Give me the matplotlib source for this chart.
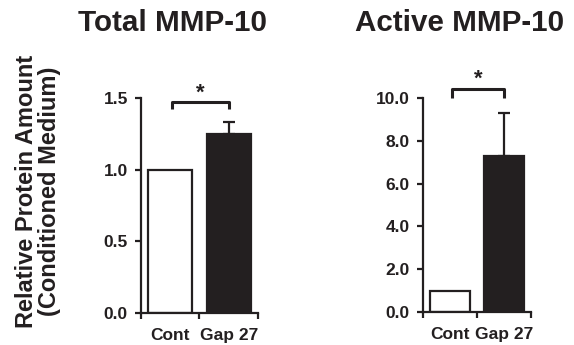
import matplotlib
matplotlib.use("Agg")
import matplotlib.pyplot as plt

plt.rcParams['font.family'] = ['Liberation Sans', 'DejaVu Sans']
plt.rcParams['font.weight'] = 'bold'

categories = ["Cont", "Gap 27"]
total_values = [1.0, 1.25]
total_errors = [0.0, 0.08]
active_values = [1.0, 7.3]
active_errors = [0.0, 2.0]
total_ticks = [0.0, 0.5, 1.0, 1.5]
total_ticklabels = ["0.0", "0.5", "1.0", "1.5"]
active_ticks = [0.0, 2.0, 4.0, 6.0, 8.0, 10.0]
active_ticklabels = ["0.0", "2.0", "4.0", "6.0", "8.0", "10.0"]
titles = ["Total MMP-10", "Active MMP-10"]
ylabel = "Relative Protein Amount\n(Conditioned Medium)"

INK = '#231f20'
fig = plt.figure(figsize=(5.74, 3.45), dpi=100)
ax1 = fig.add_axes([0.2456, 0.0928, 0.2039, 0.6232])
ax2 = fig.add_axes([0.7369, 0.0957, 0.1882, 0.6203])

def draw(ax, vals, errs, yticks, ylabels, ymax, title, title_x,
         bracket_y, bracket_drop, star_y):
    xs = [0.5, 1.5]
    colors = ['white', INK]
    for x, v, e, c in zip(xs, vals, errs, colors):
        ax.bar(x, v, width=0.75, color=c, edgecolor=INK, linewidth=1.6, zorder=2)
        if e > 0:
            ax.errorbar(x, v, yerr=[[0], [e]], fmt='none', ecolor=INK,
                        elinewidth=1.6, capsize=4, capthick=1.6, zorder=3)
    ax.set_xlim(0, 2)
    ax.set_ylim(0, ymax)
    for s in ['top', 'right']:
        ax.spines[s].set_visible(False)
    for s in ['left', 'bottom']:
        ax.spines[s].set_linewidth(1.6)
        ax.spines[s].set_color(INK)
    ax.set_yticks(yticks)
    ax.set_yticklabels(ylabels, fontsize=12.5, fontweight='bold', color=INK)
    ax.set_xticks([0, 1, 2])
    ax.set_xticklabels([])
    ax.set_xticks(xs, minor=True)
    ax.set_xticklabels(categories, minor=True, fontsize=12.5, fontweight='bold', color=INK)
    ax.tick_params(axis='x', which='minor', length=0, pad=11)
    ax.tick_params(axis='both', which='major', length=4.5, width=1.6, color=INK)
    ax.tick_params(axis='y', pad=5)
    # significance bracket
    ax.plot([0.53, 0.53, 1.5, 1.5],
            [bracket_y - bracket_drop, bracket_y, bracket_y, bracket_y - bracket_drop],
            color=INK, lw=2.2, clip_on=False, solid_capstyle='butt')
    ax.text(1.02, star_y, '*', ha='center', va='center', fontsize=16,
            fontweight='bold', color=INK, clip_on=False)
    fig.text(title_x, 0.933, title,
             ha='center', va='center', fontsize=21.3, fontweight='bold', color=INK)

draw(ax1, total_values, total_errors, total_ticks, total_ticklabels, 1.5,
     titles[0], 172 / 574, 1.472, 0.048, 1.53)
draw(ax2, active_values, active_errors, active_ticks, active_ticklabels, 10.0,
     titles[1], 460 / 574, 10.42, 0.44, 10.88)

fig.text(38 / 574, 1 - 191 / 345, ylabel, rotation=90, ha='center', va='center',
         fontsize=17, fontweight='bold', color=INK, linespacing=1.05)

fig.savefig('out.png', dpi=100)
